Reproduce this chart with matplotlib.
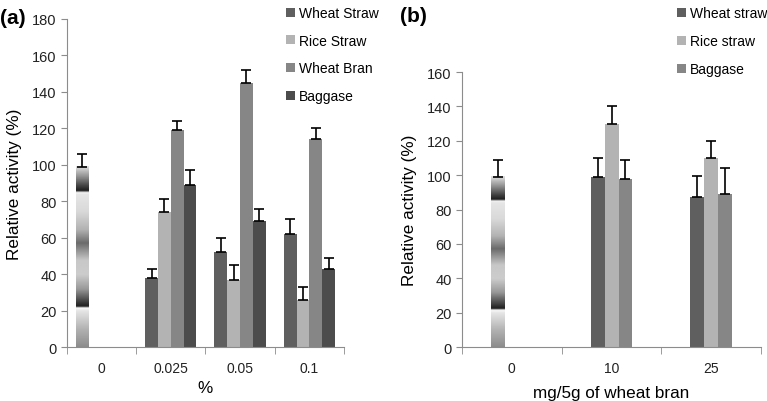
import matplotlib
matplotlib.use('Agg')
import matplotlib.pyplot as plt
import numpy as np

plt.rcParams['font.family'] = ['Liberation Sans', 'DejaVu Sans']

# panel (a)
cats_a = ['0', '0.025', '0.05', '0.1']
series_a = ['Wheat Straw', 'Rice Straw', 'Wheat Bran', 'Baggase']
vals_a = {
    'Wheat Straw': [38, 52, 62],
    'Rice Straw': [74, 37, 26],
    'Wheat Bran': [119, 145, 114],
    'Baggase': [89, 69, 43],
}
err_a = {
    'Wheat Straw': [5, 8, 8],
    'Rice Straw': [7, 8, 7],
    'Wheat Bran': [5, 7, 6],
    'Baggase': [8, 7, 6],
}
ctrl_a = 99
ctrl_err_a = 7

# panel (b)
cats_b = ['0', '10', '25']
series_b = ['Wheat straw', 'Rice straw', 'Baggase']
vals_b = {
    'Wheat straw': [99, 87],
    'Rice straw': [130, 110],
    'Baggase': [98, 89],
}
err_b = {
    'Wheat straw': [11, 12.5],
    'Rice straw': [10, 10],
    'Baggase': [11, 15],
}
ctrl_b = 99
ctrl_err_b = 10

colors_a = ['#5f5f5f', '#b3b3b3', '#868686', '#4c4c4c']
colors_b = ['#5f5f5f', '#b3b3b3', '#868686']

# grey levels of the striped control bar (height fraction, level)
grad_pos = [0, 0.10, 0.20, 0.215, 0.225, 0.25, 0.32, 0.40, 0.48, 0.575, 0.65, 0.75, 0.845, 0.855, 0.865, 0.89, 0.94, 1.0]
grad_lvl = [0.55, 0.7, 0.9, 0.98, 0.12, 0.25, 0.6, 0.8, 0.78, 0.42, 0.7, 0.85, 0.9, 0.97, 0.12, 0.25, 0.55, 0.88]

axis_col = '#8c8c8c'
fs_xtick = 10
fs_ytick = 10.5
fs_lab = 12.3
fs_leg = 10


def style(ax, ncat, ymax, labels):
    ax.set_xlim(-0.5, ncat - 0.5)
    ax.set_ylim(0, ymax)
    for s in ['top', 'right']:
        ax.spines[s].set_visible(False)
    ax.spines['left'].set_color(axis_col)
    ax.spines['bottom'].set_color(axis_col)
    ax.set_xticks(range(ncat))
    ax.set_xticklabels(labels, fontsize=fs_xtick, color='#222222')
    ax.set_xticks(np.arange(-0.5, ncat, 1), minor=True)
    ax.tick_params(axis='x', which='major', length=0, pad=10)
    ax.tick_params(axis='x', which='minor', length=5, color=axis_col)
    ax.tick_params(axis='y', length=4, color=axis_col, labelsize=fs_ytick, labelcolor='#222222')


def ctrl_bar(ax, x0, w, h, err):
    g = np.interp(np.linspace(0, 1, 300), grad_pos, grad_lvl)
    ax.imshow(g[::-1, None], cmap='gray', vmin=0, vmax=1, aspect='auto',
              extent=[x0 - w / 2, x0 + w / 2, 0, h], zorder=2, interpolation='bilinear')
    ax.errorbar(x0, h, yerr=[[0], [err]], color='black', lw=1.2, capsize=3.5, capthick=1.2, zorder=3)


fig = plt.figure(figsize=(7.67, 4.02), dpi=100)

ax1 = fig.add_axes([0.0874, 0.1343, 0.361, 0.816])
w = 0.185
for j, s in enumerate(series_a):
    xs = np.arange(1, 4) + (j - 1.5) * w
    ax1.bar(xs, vals_a[s], w, color=colors_a[j], label=s, zorder=2)
    ax1.errorbar(xs, vals_a[s], yerr=[np.zeros(3), err_a[s]], fmt='none', ecolor='black',
                 lw=1.2, capsize=3.5, capthick=1.2, zorder=3)
ctrl_bar(ax1, -1.5 * w, w, ctrl_a, ctrl_err_a)
style(ax1, 4, 180, cats_a)
ax1.set_yticks(range(0, 181, 20))
ax1.set_ylabel('Relative activity (%)', fontsize=fs_lab, labelpad=7)
ax1.set_xlabel('%', fontsize=fs_lab, labelpad=4)
fig.legend(*ax1.get_legend_handles_labels(), loc='upper left', bbox_to_anchor=(0.366, 0.996),
           frameon=False, fontsize=fs_leg, handlelength=0.6, handleheight=0.6,
           handletextpad=0.3, labelspacing=0.98, borderaxespad=0)
fig.text(0.0, 0.955, '(a)', fontsize=15, fontweight='bold', va='center')

ax2 = fig.add_axes([0.6023, 0.1343, 0.390, 0.684])
w = 0.14
for j, s in enumerate(series_b):
    xs = np.arange(1, 3) + (j - 1) * w
    ax2.bar(xs, vals_b[s], w, color=colors_b[j], label=s, zorder=2)
    ax2.errorbar(xs, vals_b[s], yerr=[np.zeros(2), err_b[s]], fmt='none', ecolor='black',
                 lw=1.2, capsize=3.5, capthick=1.2, zorder=3)
ctrl_bar(ax2, -w, w, ctrl_b, ctrl_err_b)
style(ax2, 3, 160, cats_b)
ax2.set_yticks(range(0, 161, 20))
ax2.set_ylabel('Relative activity (%)', fontsize=fs_lab, labelpad=7)
ax2.set_xlabel('mg/5g of wheat bran', fontsize=fs_lab, labelpad=7)
fig.legend(*ax2.get_legend_handles_labels(), loc='upper left', bbox_to_anchor=(0.876, 0.996),
           frameon=False, fontsize=fs_leg, handlelength=0.6, handleheight=0.6,
           handletextpad=0.3, labelspacing=1.02, borderaxespad=0)
fig.text(0.522, 0.96, '(b)', fontsize=15, fontweight='bold', va='center')

fig.savefig('out.png', dpi=100)
